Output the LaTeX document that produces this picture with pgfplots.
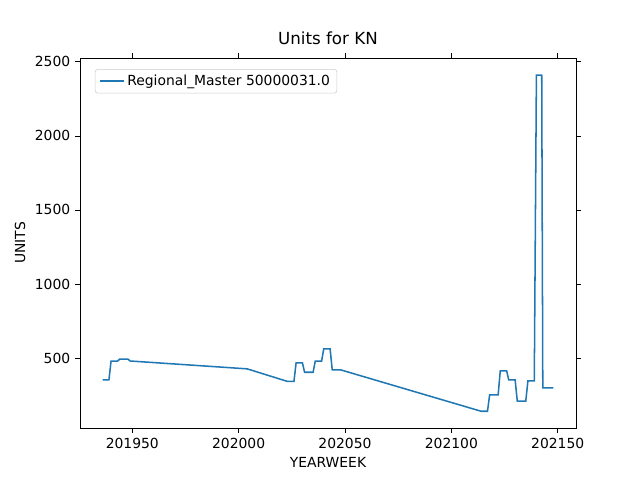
\documentclass[border=0pt]{standalone}
\usepackage{pgfplots}
\pgfplotsset{compat=1.18}
\usepackage{fontspec}
\setmainfont{DejaVu Sans}
\definecolor{mplblue}{HTML}{1F77B4}
\begin{document}
\begin{tikzpicture}
\useasboundingbox (-57.6pt,-37.44pt) rectangle (403.2pt,308.16pt);
\begin{axis}[at={(0,0)},anchor=south west,scale only axis,width=357.1pt,height=266.4pt,
xmin=201925.4,xmax=202158.6,ymin=29,ymax=2525,
xtick={201950,202000,202050,202100,202150},ytick={500,1000,1500,2000,2500},
xticklabels={201950,202000,202050,202100,202150},
yticklabels={500,1000,1500,2000,2500},
scaled ticks=false,
tick align=outside,tick style={black,thin},major tick length=3.5pt,
tick label style={font=\fontsize{10}{12}\selectfont},
label style={font=\fontsize{10}{12}\selectfont},
title style={font=\fontsize{12}{14}\selectfont},
title={Units for KN},xlabel={YEARWEEK},ylabel={UNITS},
legend pos=north west,legend cell align=left,
legend style={font=\fontsize{10}{12}\selectfont,draw=black!20,rounded corners=2pt},
]
\addplot[mplblue,line width=1.1pt] coordinates {
(201936,353)(201939,353)(201940,480)(201943,480)(201944,493)(201948,493)(201949,481)
(202004,428)(202023,343)(202026,343)(202027,468)(202030,468)(202031,405)(202035,405)
(202036,480)(202039,480)(202040,563)(202043,563)(202044,421)(202048,421)
(202114,142)(202117,142)(202118,252)(202122,252)(202123,414)(202126,414)(202127,353)
(202130,353)(202131,211)(202135,211)(202136,347)(202139,347)(202140,2410)(202142.5,2410)
(202143,300)(202148,300)};
\addlegendentry{Regional\_Master 50000031.0}
\end{axis}
\end{tikzpicture}
\end{document}
